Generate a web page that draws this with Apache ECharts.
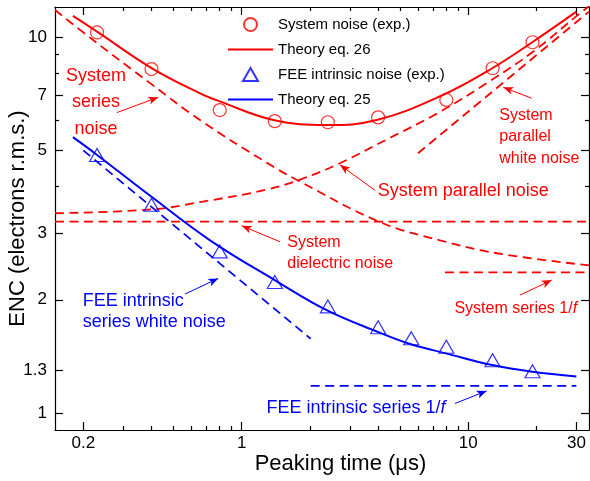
<!DOCTYPE html>
<html>
<head>
<meta charset="utf-8">
<script src="https://cdn.jsdelivr.net/npm/echarts@6/dist/echarts.min.js"></script>
<style>
  html, body { margin: 0; padding: 0; background: #fff; }
  #main { width: 590px; height: 481px; }
</style>
</head>
<body>
<div id="main"></div>
<script>
// 测量点 (峰化时间 µs, ENC)
var tauSys = [0.23, 0.4, 0.8, 1.4, 2.4, 4, 8, 12.8, 19.2];
var encSys = [10.3, 8.23, 6.4, 5.98, 5.94, 6.12, 6.81, 8.27, 9.7];
var tauFee = [0.23, 0.4, 0.8, 1.4, 2.4, 4, 5.6, 8, 12.8, 19.2];
var encFee = [4.86, 3.58, 2.69, 2.23, 1.92, 1.69, 1.58, 1.5, 1.38, 1.29];

// 理论曲线
var th26X = [0.18, 0.23, 0.4, 0.655, 0.8, 1.38, 2.37, 3.94, 7.73, 12.76, 19.16, 30];
var th26Y = [11.4, 10.35, 8.28, 7.09, 6.75, 6.02, 5.84, 6.02, 7.02, 8.27, 9.7, 11.7];
var th25X = [0.18, 0.23, 0.4, 0.725, 1.427, 2.396, 4.01, 5.63, 7.97, 12.76, 19.16, 30];
var th25Y = [5.42, 4.86, 3.76, 2.88, 2.24, 1.87, 1.64, 1.52, 1.44, 1.34, 1.286, 1.25];

// 各噪声分量 (虚线)
var serX = [0.15, 0.221, 0.394, 0.655, 1.293, 1.754, 4.08, 7.5, 13.38, 34.1];
var serY = [11.82, 9.83, 7.55, 6.02, 4.63, 4.17, 3.22, 2.88, 2.66, 2.47];
var parX = [0.15, 0.4, 0.655, 1.29, 1.81, 2.71, 4.38, 7.5, 12.47, 19.3, 30.1, 34.1];
var parY = [3.4, 3.48, 3.64, 3.93, 4.18, 4.62, 5.35, 6.33, 7.65, 9.15, 11.4, 12.1];
var parWhiteX = [6.0, 34.1];
var parWhiteY = [4.91, 11.7];
var dielX = [0.15, 34.1];
var dielY = [3.23, 3.23];
var ser1fX = [7.89, 34.1];
var ser1fY = [2.366, 2.366];
var feeWhiteX = [0.2, 2.016];
var feeWhiteY = [5.0, 1.575];
var fee1fX = [2.016, 30];
var fee1fY = [1.18, 1.18];

// 刻度
var xMajor = [0.2, 1, 10, 30];
var xMinor = [0.3, 0.4, 0.5, 0.6, 0.7, 0.8, 0.9, 2, 3, 4, 5, 6, 7, 8, 9, 20];
var yMajor = [1, 1.3, 2, 3, 5, 7, 10];
var yMinor = [4, 6, 8, 9];

// 标注: 文字 [x, y] 数据坐标
var notes = [
  { text: 'System\nseries\nnoise', at: [0.2275, 6.72], color: '#ff0000', size: 18, lh: 26.5, align: 'center' },
  { text: 'System parallel noise', at: [9.5, 3.9], color: '#ff0000', size: 18, lh: 20, align: 'center' },
  { text: 'System\nparallel\nwhite noise', at: [13.7, 5.43], color: '#ff0000', size: 16, lh: 21.5, align: 'left' },
  { text: 'System\ndielectric noise', at: [1.589, 2.66], color: '#ff0000', size: 16, lh: 21, align: 'left' },
  { text: 'System series 1/{i|f}', at: [16.2, 1.897], color: '#ff0000', size: 16, lh: 18, align: 'center' },
  { text: 'FEE intrinsic\nseries white noise', at: [0.1987, 1.862], color: '#0000ff', size: 18, lh: 21, align: 'left' },
  { text: 'FEE intrinsic series 1/{i|f}', at: [3.194, 1.031], color: '#0000ff', size: 18, lh: 20, align: 'center' }
];
// 箭头: 起点 -> 终点
var redArrows = [
  [[0.2808, 6.3], [0.4285, 6.92]],
  [[3.88, 3.91], [2.716, 4.57]],
  [[19.05, 6.88], [14.27, 7.36]],
  [[1.476, 2.854], [1.0, 3.148]],
  [[16.91, 2.058], [23.35, 2.257]]
];
var blueArrows = [
  [[0.562, 2.071], [0.788, 2.28]],
  [[8.74, 1.059], [12.06, 1.144]]
];

var FONT = "'Liberation Sans', Arial, sans-serif";
var RED = '#ff0000';
var BLUE = '#0000ff';

function pairs(xs, ys) {
  return xs.map(function (x, i) { return [x, ys[i]]; });
}
function arrowData(list) {
  return list.map(function (a) { return [{ coord: a[0] }, { coord: a[1] }]; });
}
function dashed(name, xs, ys, color, smooth, arrows) {
  var s = {
    name: name, type: 'line', data: pairs(xs, ys), symbol: 'none', smooth: smooth,
    lineStyle: { color: color, width: 1.8, type: [9, 5.5] }, z: 3, silent: true
  };
  if (arrows) {
    s.markLine = {
      silent: true, symbol: ['none', 'arrow'], symbolSize: [6, 10],
      label: { show: false },
      lineStyle: { color: color, width: 1, type: 'solid' },
      data: arrowData(arrows)
    };
  }
  return s;
}

function xAxisOf(pos, values, len, line, label) {
  return {
    type: 'log', logBase: 10, min: 0.15, max: 34.1, position: pos, gridIndex: 0,
    splitLine: { show: false },
    axisLine: { show: line, onZero: false, lineStyle: { color: '#000', width: 1.2 } },
    axisTick: { show: true, inside: true, length: len, customValues: values, lineStyle: { color: '#000', width: 1.2 } },
    axisLabel: label ? {
      show: true, customValues: values, fontSize: 17, color: '#000', fontFamily: FONT, margin: 5,
      formatter: function (v) { return String(+(+v).toPrecision(3)); }
    } : { show: false }
  };
}
function yAxisOf(pos, values, len, line, label) {
  return {
    type: 'log', logBase: 10, min: 0.9, max: 12.04, position: pos, gridIndex: 0,
    splitLine: { show: false },
    axisLine: { show: line, onZero: false, lineStyle: { color: '#000', width: 1.2 } },
    axisTick: { show: true, inside: true, length: len, customValues: values, lineStyle: { color: '#000', width: 1.2 } },
    axisLabel: label ? {
      show: true, customValues: values, fontSize: 17, color: '#000', fontFamily: FONT, margin: 8,
      formatter: function (v) { return String(+(+v).toPrecision(3)); }
    } : { show: false }
  };
}

var xMain = xAxisOf('bottom', xMajor, 8, true, true);
xMain.name = 'Peaking time (\u03bcs)';
xMain.nameLocation = 'middle';
xMain.nameGap = 23;
xMain.nameMoveOverlap = false;
xMain.nameTextStyle = { fontSize: 22, color: '#000', fontFamily: FONT, padding: [0, 0, 0, 37] };
var yMain = yAxisOf('left', yMajor, 8, true, true);
yMain.name = 'ENC (electrons r.m.s.)';
yMain.nameLocation = 'middle';
yMain.nameGap = 26;
yMain.nameMoveOverlap = false;
yMain.nameTextStyle = { fontSize: 22, color: '#000', fontFamily: FONT };

var myChart = echarts.init(document.getElementById('main'));
var option = {
  animation: false,
  backgroundColor: '#fff',
  textStyle: { fontFamily: FONT },
  grid: { left: 55, right: 1, top: 7, bottom: 51, containLabel: false, outerBoundsMode: 'none' },
  legend: {
    data: [
      { name: 'System noise (exp.)', icon: 'circle' },
      { name: 'Theory eq. 26' },
      { name: 'FEE intrinsic noise (exp.)', icon: 'path://M7.5,0L15,13L0,13Z' },
      { name: 'Theory eq. 25' }
    ],
    orient: 'vertical', left: 227, top: 17, padding: 0,
    itemWidth: 45, itemHeight: 13, itemGap: 10,
    textStyle: { fontSize: 15, color: '#000', fontFamily: FONT }
  },
  xAxis: [
    xMain,
    xAxisOf('bottom', xMinor, 4, false, false),
    xAxisOf('top', xMajor, 8, true, false),
    xAxisOf('top', xMinor, 4, false, false)
  ],
  yAxis: [
    yMain,
    yAxisOf('left', yMinor, 4, false, false),
    yAxisOf('right', yMajor, 8, true, false),
    yAxisOf('right', yMinor, 4, false, false)
  ],
  series: [
    {
      name: 'System noise (exp.)', type: 'scatter', data: pairs(tauSys, encSys),
      symbol: 'circle', symbolSize: 13, z: 5,
      itemStyle: { color: 'transparent', borderColor: RED, borderWidth: 1.2 }
    },
    {
      name: 'Theory eq. 26', type: 'line', data: pairs(th26X, th26Y), symbol: 'none',
      smooth: 0.4, lineStyle: { color: RED, width: 2 }, itemStyle: { color: 'transparent' }, z: 4
    },
    {
      name: 'FEE intrinsic noise (exp.)', type: 'scatter', data: pairs(tauFee, encFee),
      symbol: 'triangle', symbolSize: [15, 13], z: 5,
      itemStyle: { color: 'transparent', borderColor: BLUE, borderWidth: 1.2 }
    },
    {
      name: 'Theory eq. 25', type: 'line', data: pairs(th25X, th25Y), symbol: 'none',
      smooth: 0.4, lineStyle: { color: BLUE, width: 2 }, itemStyle: { color: 'transparent' }, z: 4
    },
    dashed('sysSeries', serX, serY, RED, 0.4),
    dashed('sysParallel', parX, parY, RED, 0.4),
    dashed('sysParWhite', parWhiteX, parWhiteY, RED, false),
    dashed('sysDielectric', dielX, dielY, RED, false, redArrows),
    dashed('sys1f', ser1fX, ser1fY, RED, false),
    dashed('feeWhite', feeWhiteX, feeWhiteY, BLUE, false),
    dashed('fee1f', fee1fX, fee1fY, BLUE, false, blueArrows)
  ]
};
myChart.setOption(option);

// 标注文字: 用坐标系换算到像素
var graphics = notes.map(function (n) {
  var p = myChart.convertToPixel({ seriesIndex: 0 }, n.at);
  return {
    type: 'text', x: p[0], y: p[1], silent: true, z: 10,
    style: {
      text: n.text, fill: n.color, fontSize: n.size, fontFamily: FONT,
      align: n.align, verticalAlign: 'middle', lineHeight: n.lh,
      rich: { i: { fontStyle: 'italic', fontSize: n.size, fontFamily: FONT, fill: n.color } }
    }
  };
});
myChart.setOption({ graphic: graphics });
</script>
</body>
</html>
